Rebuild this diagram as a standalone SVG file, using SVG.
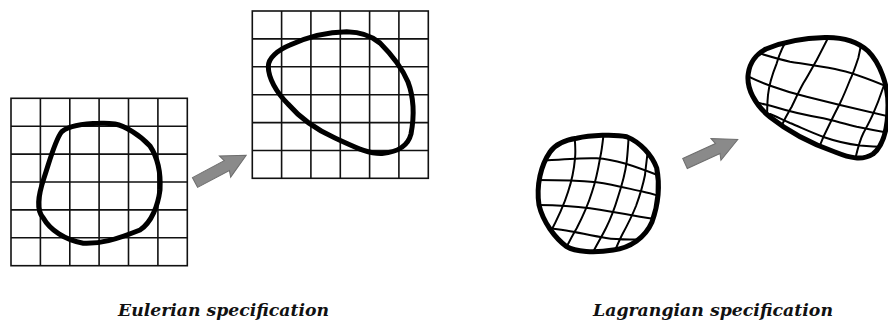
<svg xmlns="http://www.w3.org/2000/svg" width="888" height="323" viewBox="0 0 888 323">
<style>
.grid{stroke:#111;stroke-width:1.6;fill:none}
.blob{stroke:#000;stroke-width:5;fill:none;stroke-linejoin:round}
.mesh{stroke:#000;stroke-width:2;fill:none;stroke-linecap:round}
.arrow{fill:#8a8a8a;stroke:#6e6e6e;stroke-width:1}
.lbl{font-family:"DejaVu Serif","Liberation Serif",serif;font-weight:bold;font-style:italic;font-size:16px;fill:#111}
</style>
<defs>
<path id="arr" d="M0,-5.5 L36,-5.5 L34,-12 L58,0 L34,12 L36,5.5 L0,5.5 Z"/>
<path id="b3" d="M576.7,138.3 C590,135 615,134 626.7,136.7 C640,142 652,155 656.7,168 C660,185 658,205 652,222 C645,238 630,248 613.3,250 C595,253 575,252 566.7,246.7 C555,238 543,222 539,205 C536,185 541,165 550,152 C555,145 565,140 576.7,138.3 Z"/>
<path id="b4" d="M748.3,73.3 C750,62 755,55 766,49 C785,41 805,38 825,37.5 C845,37 858,42 868,51 C880,63 888,85 888,105 C888,128 884,145 873,154 C862,161 850,158 835,152 C815,145 790,133 770,117 C755,105 746,88 748.3,73.3 Z"/>
<clipPath id="c3"><use href="#b3"/></clipPath>
<clipPath id="c4"><use href="#b4"/></clipPath>
</defs>

<g id="eulerian-before">
<rect class="grid" x="11" y="98.3" width="176.3" height="167.4"/>
<path class="grid" d="M40.4,98.3V265.7M69.8,98.3V265.7M99.1,98.3V265.7M128.5,98.3V265.7M157.9,98.3V265.7M11,126.2H187.3M11,154.1H187.3M11,182H187.3M11,209.9H187.3M11,237.8H187.3"/>
<path class="blob" d="M100,123.3 C88,123.5 70,125 61.7,131.7 C55,140 50,160 44,178 C38,196 36,210 43.3,218 C50,230 65,240 83.3,243.3 C100,244 115,240 140,230 C152,222 158,205 160,190 C161,172 158,158 150,146 C140,135 125,126 115,124 C108,123 104,123 100,123.3 Z"/>
</g>

<g id="eulerian-after">
<rect class="grid" x="252.3" y="11" width="176" height="167.3"/>
<path class="grid" d="M281.6,11V178.3M310.9,11V178.3M340.3,11V178.3M369.6,11V178.3M398.9,11V178.3M252.3,38.9H428.3M252.3,66.8H428.3M252.3,94.7H428.3M252.3,122.6H428.3M252.3,150.5H428.3"/>
<path class="blob" d="M268.3,66.7 C268,58 278,50 290,45 C305,38 325,32 346.7,31.7 C360,32 372,36 380,43 C392,55 402,68 408,82 C414,98 414,118 411,134 C408,146 398,152 382,153.5 C368,154 355,147 335,138 C315,129 300,118 288,104 C276,92 268.5,78 268.3,66.7 Z"/>
</g>

<g id="lagrangian-before">
<g clip-path="url(#c3)">
<path class="mesh" d="M545,160.5 C560,159.5 585,157.5 596.7,158.3 C608,159 616,161 625,163.5 C640,168 650,172 665,178"/>
<path class="mesh" d="M535,180 C550,180 572,180 596.7,182.3 C615,185 630,189 643.3,191.7 C650,193 656,195 665,198"/>
<path class="mesh" d="M535,205 C550,205 570,205.5 590,208.3 C605,210.5 625,214 640,216.7 C648,218 655,219 665,220"/>
<path class="mesh" d="M545,227.5 C555,229 565,230 573.3,231.7 C585,234 596,236.5 606,238 C618,240 630,240.5 665,238"/>
<path class="mesh" d="M574,130 C575,140 576,150 575,158.3 C574,170 572,180 568,192 C564,205 558,218 549,235"/>
<path class="mesh" d="M604,130 C603,140 602,150 600,158.3 C598,170 596,180 592,192 C588,205 582,218 576.7,228.3 C572,236 568,244 562,256"/>
<path class="mesh" d="M629,130 C628.5,140 628,150 626.7,161.7 C625,175 622,185 618,197 C615,207 611,218 606,228 C601,238 596,246 590,258"/>
<path class="mesh" d="M649,140 C648,150 646,165 645,175 C643,185 640,195 636,206 C632,216 628,224 622,235 C619,241 616,248 612,258"/>
</g>
<use href="#b3" class="blob"/>
</g>

<g id="lagrangian-after">
<g clip-path="url(#c4)">
<path class="mesh" d="M755,52 C765,55 778,59 790,61.7 C805,64 820,66 835,69 C850,72 865,77 895,90"/>
<path class="mesh" d="M745,75 C755,80 765,84 773.3,86.7 C785,91 795,94 806.7,96.7 C820,100 830,102.5 840,105 C855,108.5 870,112 895,118"/>
<path class="mesh" d="M755,102 C760,103 765,104.5 775,107 C790,111.7 805,115 823.3,118.3 C835,121 845,124 856.7,126.7 C868,129 878,131 895,134"/>
<path class="mesh" d="M770,114 C775,116 780,118.5 790,123 C800,127 810,132 825,137.5 C835,141 848,144 860,145.5 C870,146.5 880,147 895,147"/>
<path class="mesh" d="M790,35 C785,42 780,52 776.7,63.3 C772,75 769,85 768,95 C767,105 767,113 767,125"/>
<path class="mesh" d="M832,30 C829,36 823,48 816.7,60 C811,70 808,76 803.3,83.3 C798,93 795,100 791.7,106.7 C788,113 785,118 781,127"/>
<path class="mesh" d="M861,45 C860,50 859,55 858.3,58 C855,68 853,74 850,80 C846,90 843,97 840,103.3 C836,111 833,117 830,123.3 C826,131 823,137 818,150"/>
<path class="mesh" d="M888,75 C886,80 884.5,84 883,88 C880,97 877,105 873.3,113.3 C870,121 866,128 863.3,133.3 C860,140 858,147 855,160"/>
</g>
<use href="#b4" class="blob"/>
</g>

<g id="connectors">
<use href="#arr" class="arrow" transform="translate(195,182.5) rotate(-28)"/>
<use href="#arr" class="arrow" transform="translate(685,163.5) rotate(-24.5)"/>
</g>

<g id="labels">
<text class="lbl" x="118" y="316" textLength="211" lengthAdjust="spacingAndGlyphs">Eulerian specification</text>
<text class="lbl" x="593" y="316" textLength="240" lengthAdjust="spacingAndGlyphs">Lagrangian specification</text>
</g>
</svg>
